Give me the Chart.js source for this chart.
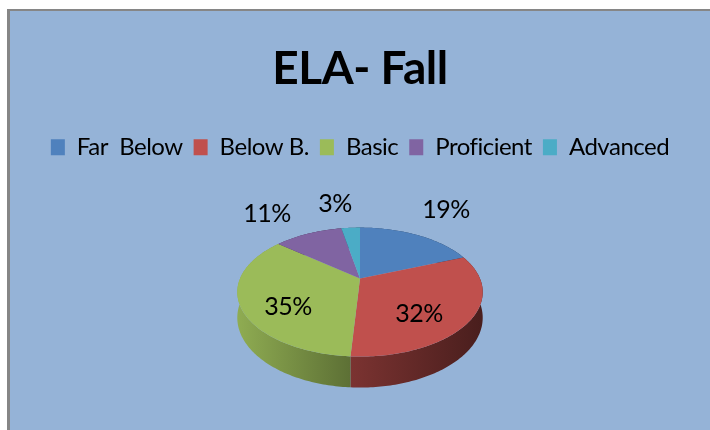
<!DOCTYPE html>
<html>
<head>
<meta charset="utf-8">
<title>ELA- Fall</title>
<script src="https://cdn.jsdelivr.net/npm/chart.js@4"></script>
<style>
    html, body { margin: 0; padding: 0; background: #fff; }
    canvas { display: block; }
</style>
</head>
<body>
<canvas id="chart" width="710" height="430"></canvas>
<script>
// Chart data
const categories = ['Far  Below', 'Below B.', 'Basic', 'Proficient', 'Advanced'];
const percents = [19, 32, 35, 11, 3];
const colors = ['#4f81bd', '#c0504d', '#9bbb59', '#8064a2', '#4bacc6'];

const textFont = 'Lato, "Liberation Sans", sans-serif';

// Look of the tilted pie
const tilt = { squash: 0.514, perspective: -0.209, depth: 31 };
// Darkening of the rim, left end and right end of each slice
const rimShades = [[0.6, 0.4], [0.64, 0.38], [0.92, 0.6], [0.6, 0.4], [0.6, 0.4]];
// Label centres, relative to the pie centre
const labelOffsets = [[86, -69], [59, 35], [-72, 28], [-93, -65], [-25, -75]];

// Unit circle to screen, angle measured clockwise from 12 o'clock
function project(arc, theta) {
    const along = Math.sin(theta);
    const toward = -Math.cos(theta);
    const w = 1 + tilt.perspective * toward;
    const r = arc.outerRadius;
    return {
        x: arc.x + r * along / w,
        y: arc.y + r * tilt.squash * toward / w,
        drop: tilt.depth * (1 + tilt.perspective) / w
    };
}

function rimPoints(arc) {
    const start = arc.startAngle + Math.PI / 2;
    const end = arc.endAngle + Math.PI / 2;
    const steps = Math.max(2, Math.ceil((end - start) * 60));
    const points = [];
    for (let i = 0; i <= steps; i++) {
        points.push(project(arc, start + (end - start) * i / steps));
    }
    return points;
}

function shade(hex, factor) {
    const n = parseInt(hex.slice(1), 16);
    const r = Math.round((n >> 16 & 255) * factor);
    const g = Math.round((n >> 8 & 255) * factor);
    const b = Math.round((n & 255) * factor);
    return `rgb(${r}, ${g}, ${b})`;
}

// Panel behind the chart
const panelPlugin = {
    id: 'panel',
    beforeLayout(chart) {
        // the original text is a narrow face, tighten the spacing to get close
        chart.ctx.letterSpacing = '-0.5px';
    },
    beforeDraw(chart) {
        const ctx = chart.ctx;
        ctx.letterSpacing = '-0.5px';
        ctx.save();
        ctx.fillStyle = '#ffffff';
        ctx.fillRect(0, 0, chart.width, chart.height);
        ctx.fillStyle = '#868686';
        ctx.fillRect(7, 9, chart.width - 7, chart.height - 9);
        ctx.fillStyle = '#95b3d7';
        ctx.fillRect(10, 11, chart.width - 10, chart.height - 11);
        ctx.restore();
    }
};

// Draws the arcs the pie controller laid out as a tilted disc
const tiltedPiePlugin = {
    id: 'tiltedPie',
    beforeDatasetDraw(chart) {
        const ctx = chart.ctx;
        const arcs = chart.getDatasetMeta(0).data;
        ctx.save();

        // Rim first, the top face covers whatever is at the back
        arcs.forEach((arc, i) => {
            const points = rimPoints(arc);
            const xs = points.map(p => p.x);
            const grad = ctx.createLinearGradient(Math.min(...xs), 0, Math.max(...xs), 0);
            grad.addColorStop(0, shade(colors[i], rimShades[i][0]));
            grad.addColorStop(1, shade(colors[i], rimShades[i][1]));
            ctx.beginPath();
            points.forEach((p, n) => n ? ctx.lineTo(p.x, p.y) : ctx.moveTo(p.x, p.y));
            points.slice().reverse().forEach(p => ctx.lineTo(p.x, p.y + p.drop));
            ctx.closePath();
            ctx.fillStyle = grad;
            ctx.fill();
        });

        // Top face
        arcs.forEach((arc, i) => {
            ctx.beginPath();
            ctx.moveTo(arc.x, arc.y);
            rimPoints(arc).forEach(p => ctx.lineTo(p.x, p.y));
            ctx.closePath();
            ctx.fillStyle = colors[i];
            ctx.fill();
        });

        // Percent labels
        ctx.fillStyle = '#000000';
        ctx.font = `25px ${textFont}`;
        ctx.textAlign = 'center';
        ctx.textBaseline = 'middle';
        arcs.forEach((arc, i) => {
            ctx.fillText(percents[i] + '%', arc.x + labelOffsets[i][0], arc.y + labelOffsets[i][1]);
        });

        ctx.restore();
        return false;
    }
};

new Chart(document.getElementById('chart'), {
    type: 'pie',
    data: {
        labels: categories,
        datasets: [{
            data: percents,
            backgroundColor: colors,
            borderWidth: 0
        }]
    },
    options: {
        responsive: false,
        animation: false,
        radius: 120,
        layout: { padding: { left: 10, top: 42, bottom: 42 } },
        plugins: {
            tooltip: { enabled: false },
            title: {
                display: true,
                text: 'ELA- Fall',
                color: '#000000',
                font: { family: textFont, size: 46, weight: 'bold' },
                padding: { top: 0, bottom: 27 }
            },
            legend: {
                position: 'top',
                labels: {
                    boxWidth: 14,
                    boxHeight: 16,
                    padding: 11,
                    color: '#000000',
                    font: { family: textFont, size: 24 }
                }
            }
        }
    },
    plugins: [panelPlugin, tiltedPiePlugin]
});
</script>
</body>
</html>
